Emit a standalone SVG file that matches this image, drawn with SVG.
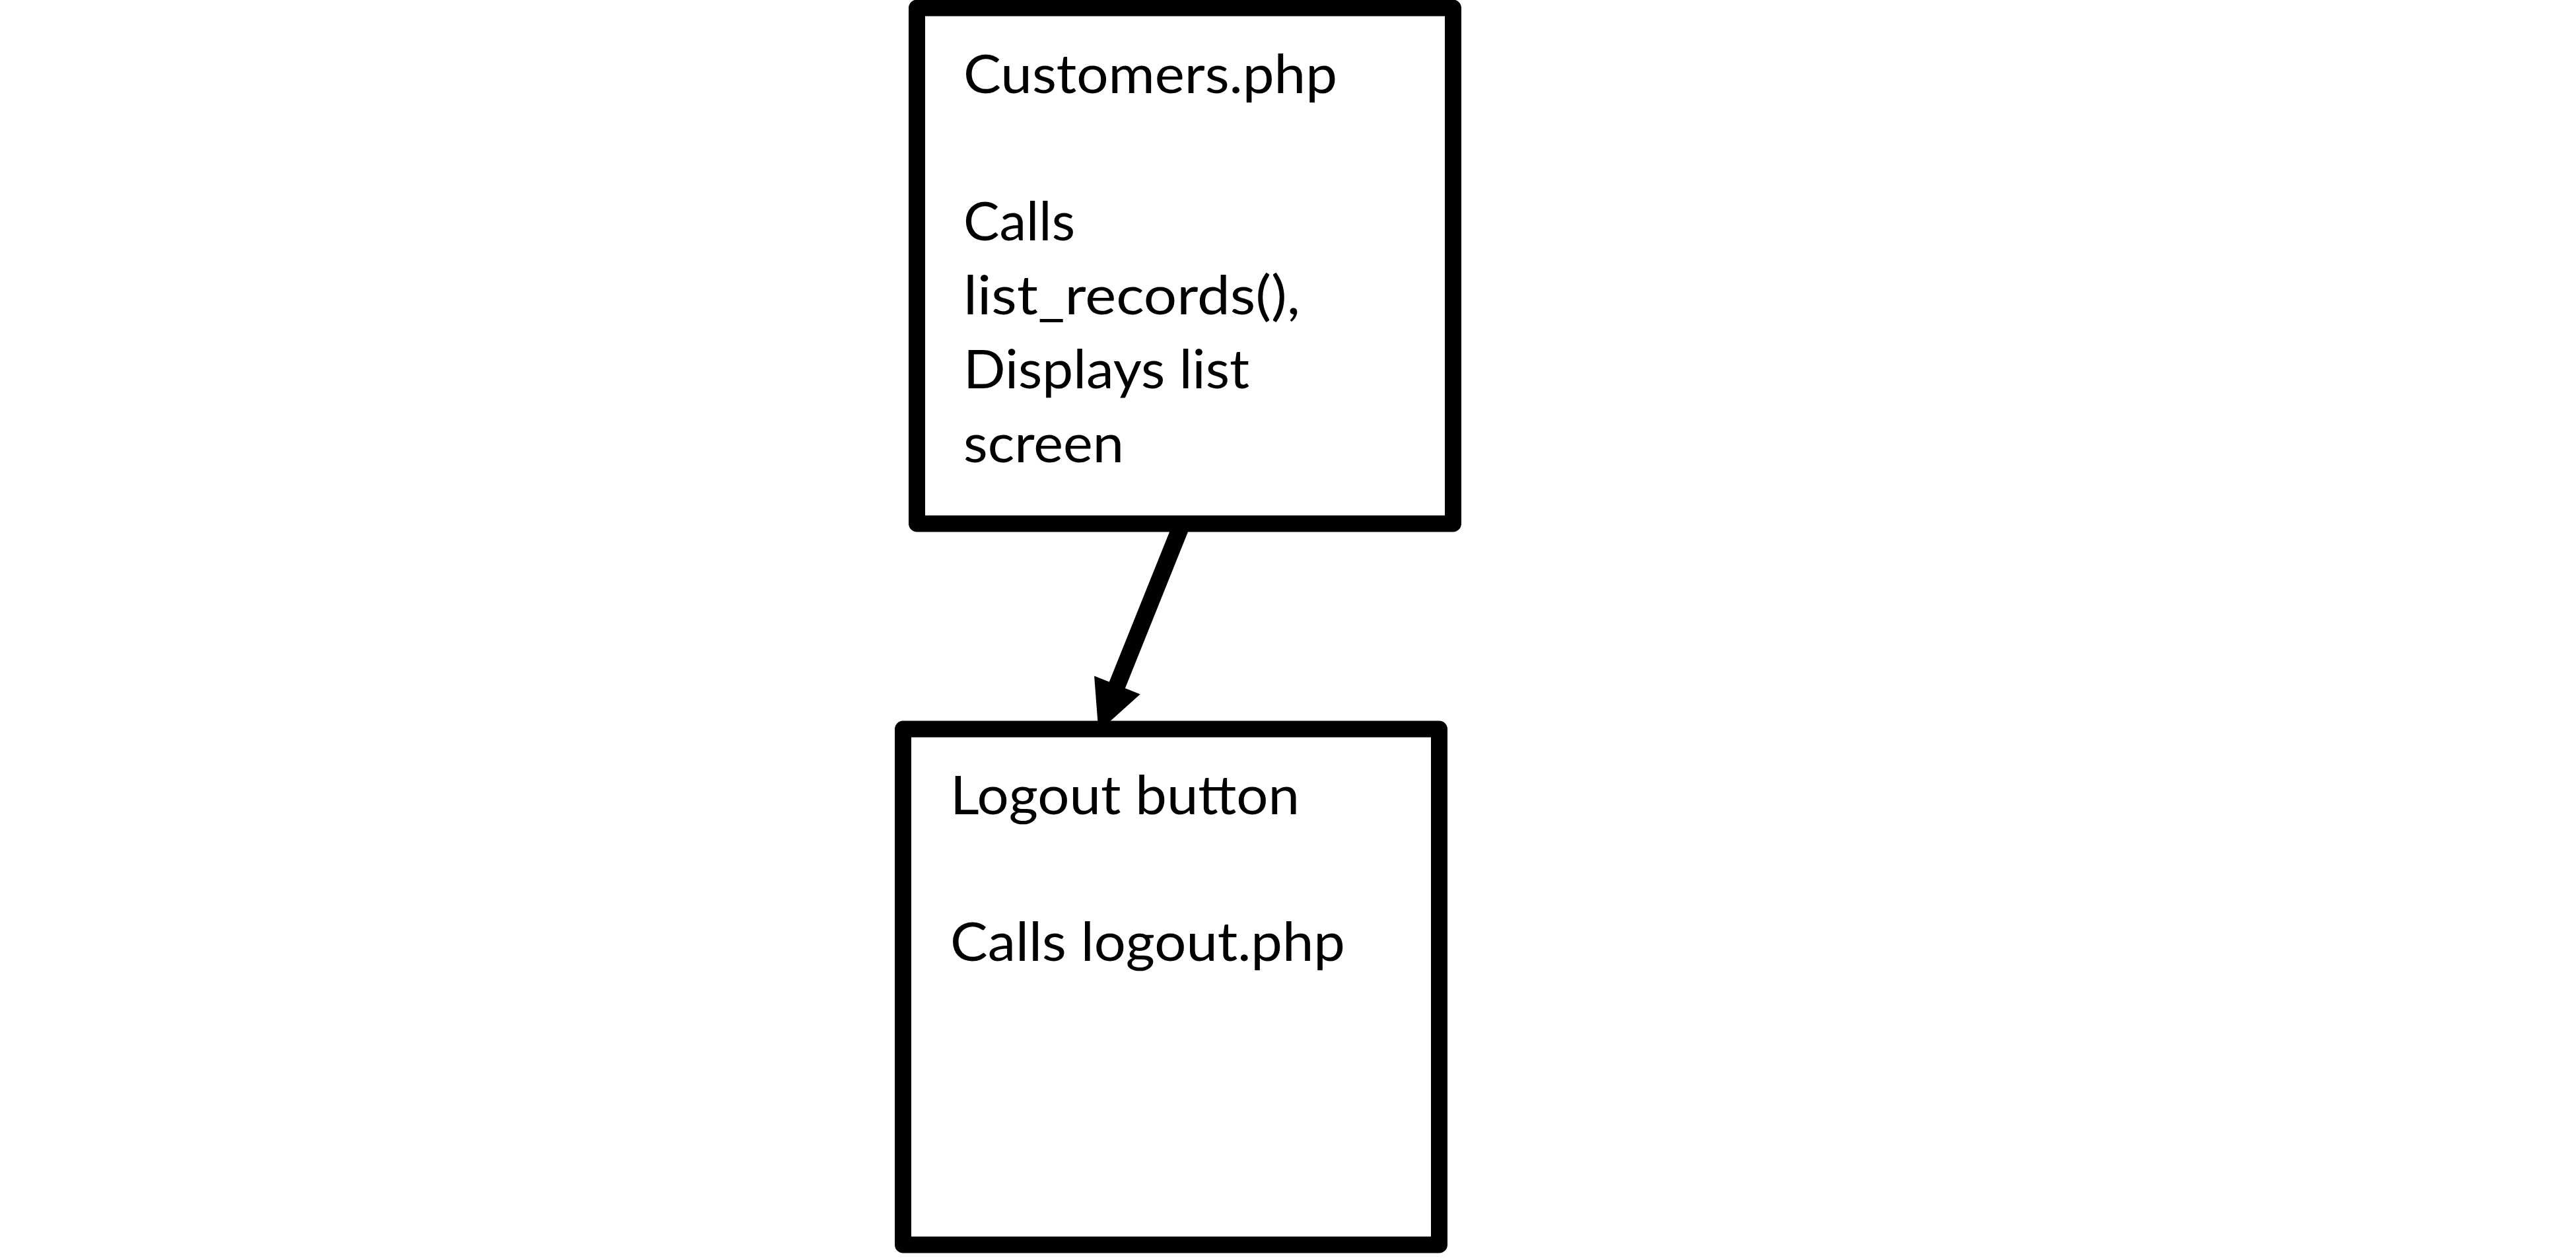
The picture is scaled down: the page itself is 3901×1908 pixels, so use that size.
<svg xmlns="http://www.w3.org/2000/svg" width="3901" height="1908" viewBox="0 0 3901 1908">
  <style>
    .box { fill: #ffffff; stroke: #000000; stroke-width: 25; stroke-linejoin: round; }
    .label { font-family: Lato, "Liberation Sans", sans-serif; font-size: 82px; fill: #000000; }
    .link { stroke: #000000; stroke-width: 26; fill: none; }
  </style>
  <defs>
    <marker id="arrowhead" markerUnits="userSpaceOnUse" viewBox="-6 -40 80 80" markerWidth="80" markerHeight="80" refX="0" refY="0" orient="auto">
      <path d="M-5,-37.5 L71,0 L-5,37.5 Z" fill="#000000"/>
    </marker>
  </defs>

  <rect x="0" y="0" width="3901" height="1908" fill="#ffffff"/>

  <g id="customers-page">
    <rect class="box" x="1388.5" y="12" width="812" height="781"/>
    <text class="label" x="1459" y="141" textLength="566" lengthAdjust="spacingAndGlyphs">Customers.php</text>
    <text class="label" x="1459" y="364" textLength="169" lengthAdjust="spacingAndGlyphs">Calls</text>
    <text class="label" x="1459" y="476" textLength="510" lengthAdjust="spacingAndGlyphs">list_records(),</text>
    <text class="label" x="1459" y="588" textLength="433" lengthAdjust="spacingAndGlyphs">Displays list</text>
    <text class="label" x="1459" y="700" textLength="243" lengthAdjust="spacingAndGlyphs">screen</text>
  </g>

  <g id="logout-button">
    <rect class="box" x="1367.5" y="1104" width="812" height="781"/>
    <text class="label" x="1439" y="1233" textLength="529" lengthAdjust="spacingAndGlyphs">Logout button</text>
    <text class="label" x="1439" y="1455" textLength="598" lengthAdjust="spacingAndGlyphs">Calls logout.php</text>
  </g>

  <g id="connectors">
    <line class="link" x1="1790" y1="793" x2="1690" y2="1042" marker-end="url(#arrowhead)"/>
  </g>
</svg>
